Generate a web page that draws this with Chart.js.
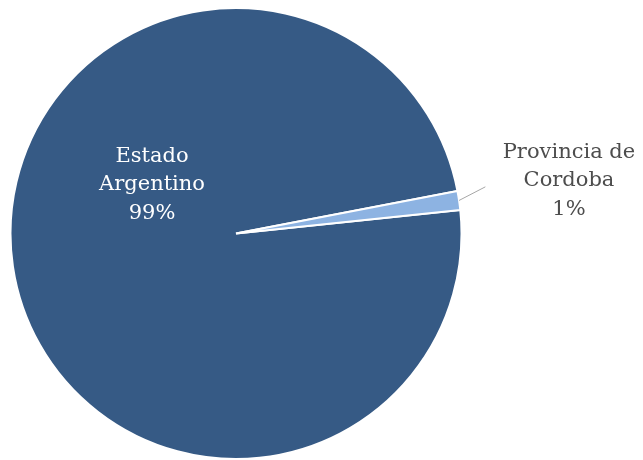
<!DOCTYPE html>
<html>
<head>
<meta charset="utf-8">
<script src="https://cdn.jsdelivr.net/npm/chart.js@4"></script>
<style>
  html, body { margin: 0; padding: 0; background: #fff; }
  #wrap { width: 643px; height: 460px; }
</style>
</head>
<body>
<div id="wrap"><canvas id="chart"></canvas></div>
<script>
const categories = ['Estado Argentino', 'Provincia de Cordoba'];
const shares = [98.65, 1.35];
const percentLabels = ['99%', '1%'];
const sliceColors = ['#365a85', '#8db3e2'];

// where each label sits: angle (deg, canvas) and distance as fraction of radius
const labelPlacement = [
    { angle: -150, dist: 0.43, color: '#ffffff', leader: false },
    { angle: -9.0, dist: 1.495, color: '#4d4d4d', leader: true }
];

const pieLabels = {
    id: 'pieLabels',
    afterDatasetsDraw(chart) {
        const ctx = chart.ctx;
        const arcs = chart.getDatasetMeta(0).data;
        ctx.save();
        ctx.font = '21px "DejaVu Serif", "Liberation Serif", serif';
        ctx.textAlign = 'center';
        ctx.textBaseline = 'middle';
        arcs.forEach((arc, i) => {
            const { x, y, outerRadius, startAngle, endAngle } = arc.getProps(['x', 'y', 'outerRadius', 'startAngle', 'endAngle'], true);
            const p = labelPlacement[i];
            const a = p.angle * Math.PI / 180;
            const lx = x + Math.cos(a) * outerRadius * p.dist;
            const ly = y + Math.sin(a) * outerRadius * p.dist;

            if (p.leader) {
                const mid = (startAngle + endAngle) / 2;
                const ea = -10.6 * Math.PI / 180;
                ctx.strokeStyle = '#a6a6a6';
                ctx.lineWidth = 1;
                ctx.beginPath();
                ctx.moveTo(x + Math.cos(mid) * outerRadius, y + Math.sin(mid) * outerRadius);
                ctx.lineTo(x + Math.cos(ea) * outerRadius * 1.125, y + Math.sin(ea) * outerRadius * 1.125);
                ctx.stroke();
            }

            const words = categories[i].split(' ');
            const lines = i === 0 ? [words[0], words[1], percentLabels[i]]
                                  : [words.slice(0, 2).join(' '), words[2], percentLabels[i]];
            ctx.fillStyle = p.color;
            const lh = 28.5;
            lines.forEach((t, k) => {
                ctx.fillText(t, lx, ly + (k - 1) * lh);
            });
        });
        ctx.restore();
    }
};

new Chart(document.getElementById('chart'), {
    type: 'pie',
    data: {
        labels: categories,
        datasets: [{
            data: shares,
            backgroundColor: sliceColors,
            borderColor: '#ffffff',
            borderWidth: 2,
            hoverOffset: 0
        }]
    },
    options: {
        responsive: true,
        maintainAspectRatio: false,
        animation: false,
        rotation: 84,
        layout: { padding: { left: 8, right: 179, top: 7, bottom: 0 } },
        plugins: {
            legend: { display: false },
            tooltip: { enabled: false }
        }
    },
    plugins: [pieLabels]
});
</script>
</body>
</html>
